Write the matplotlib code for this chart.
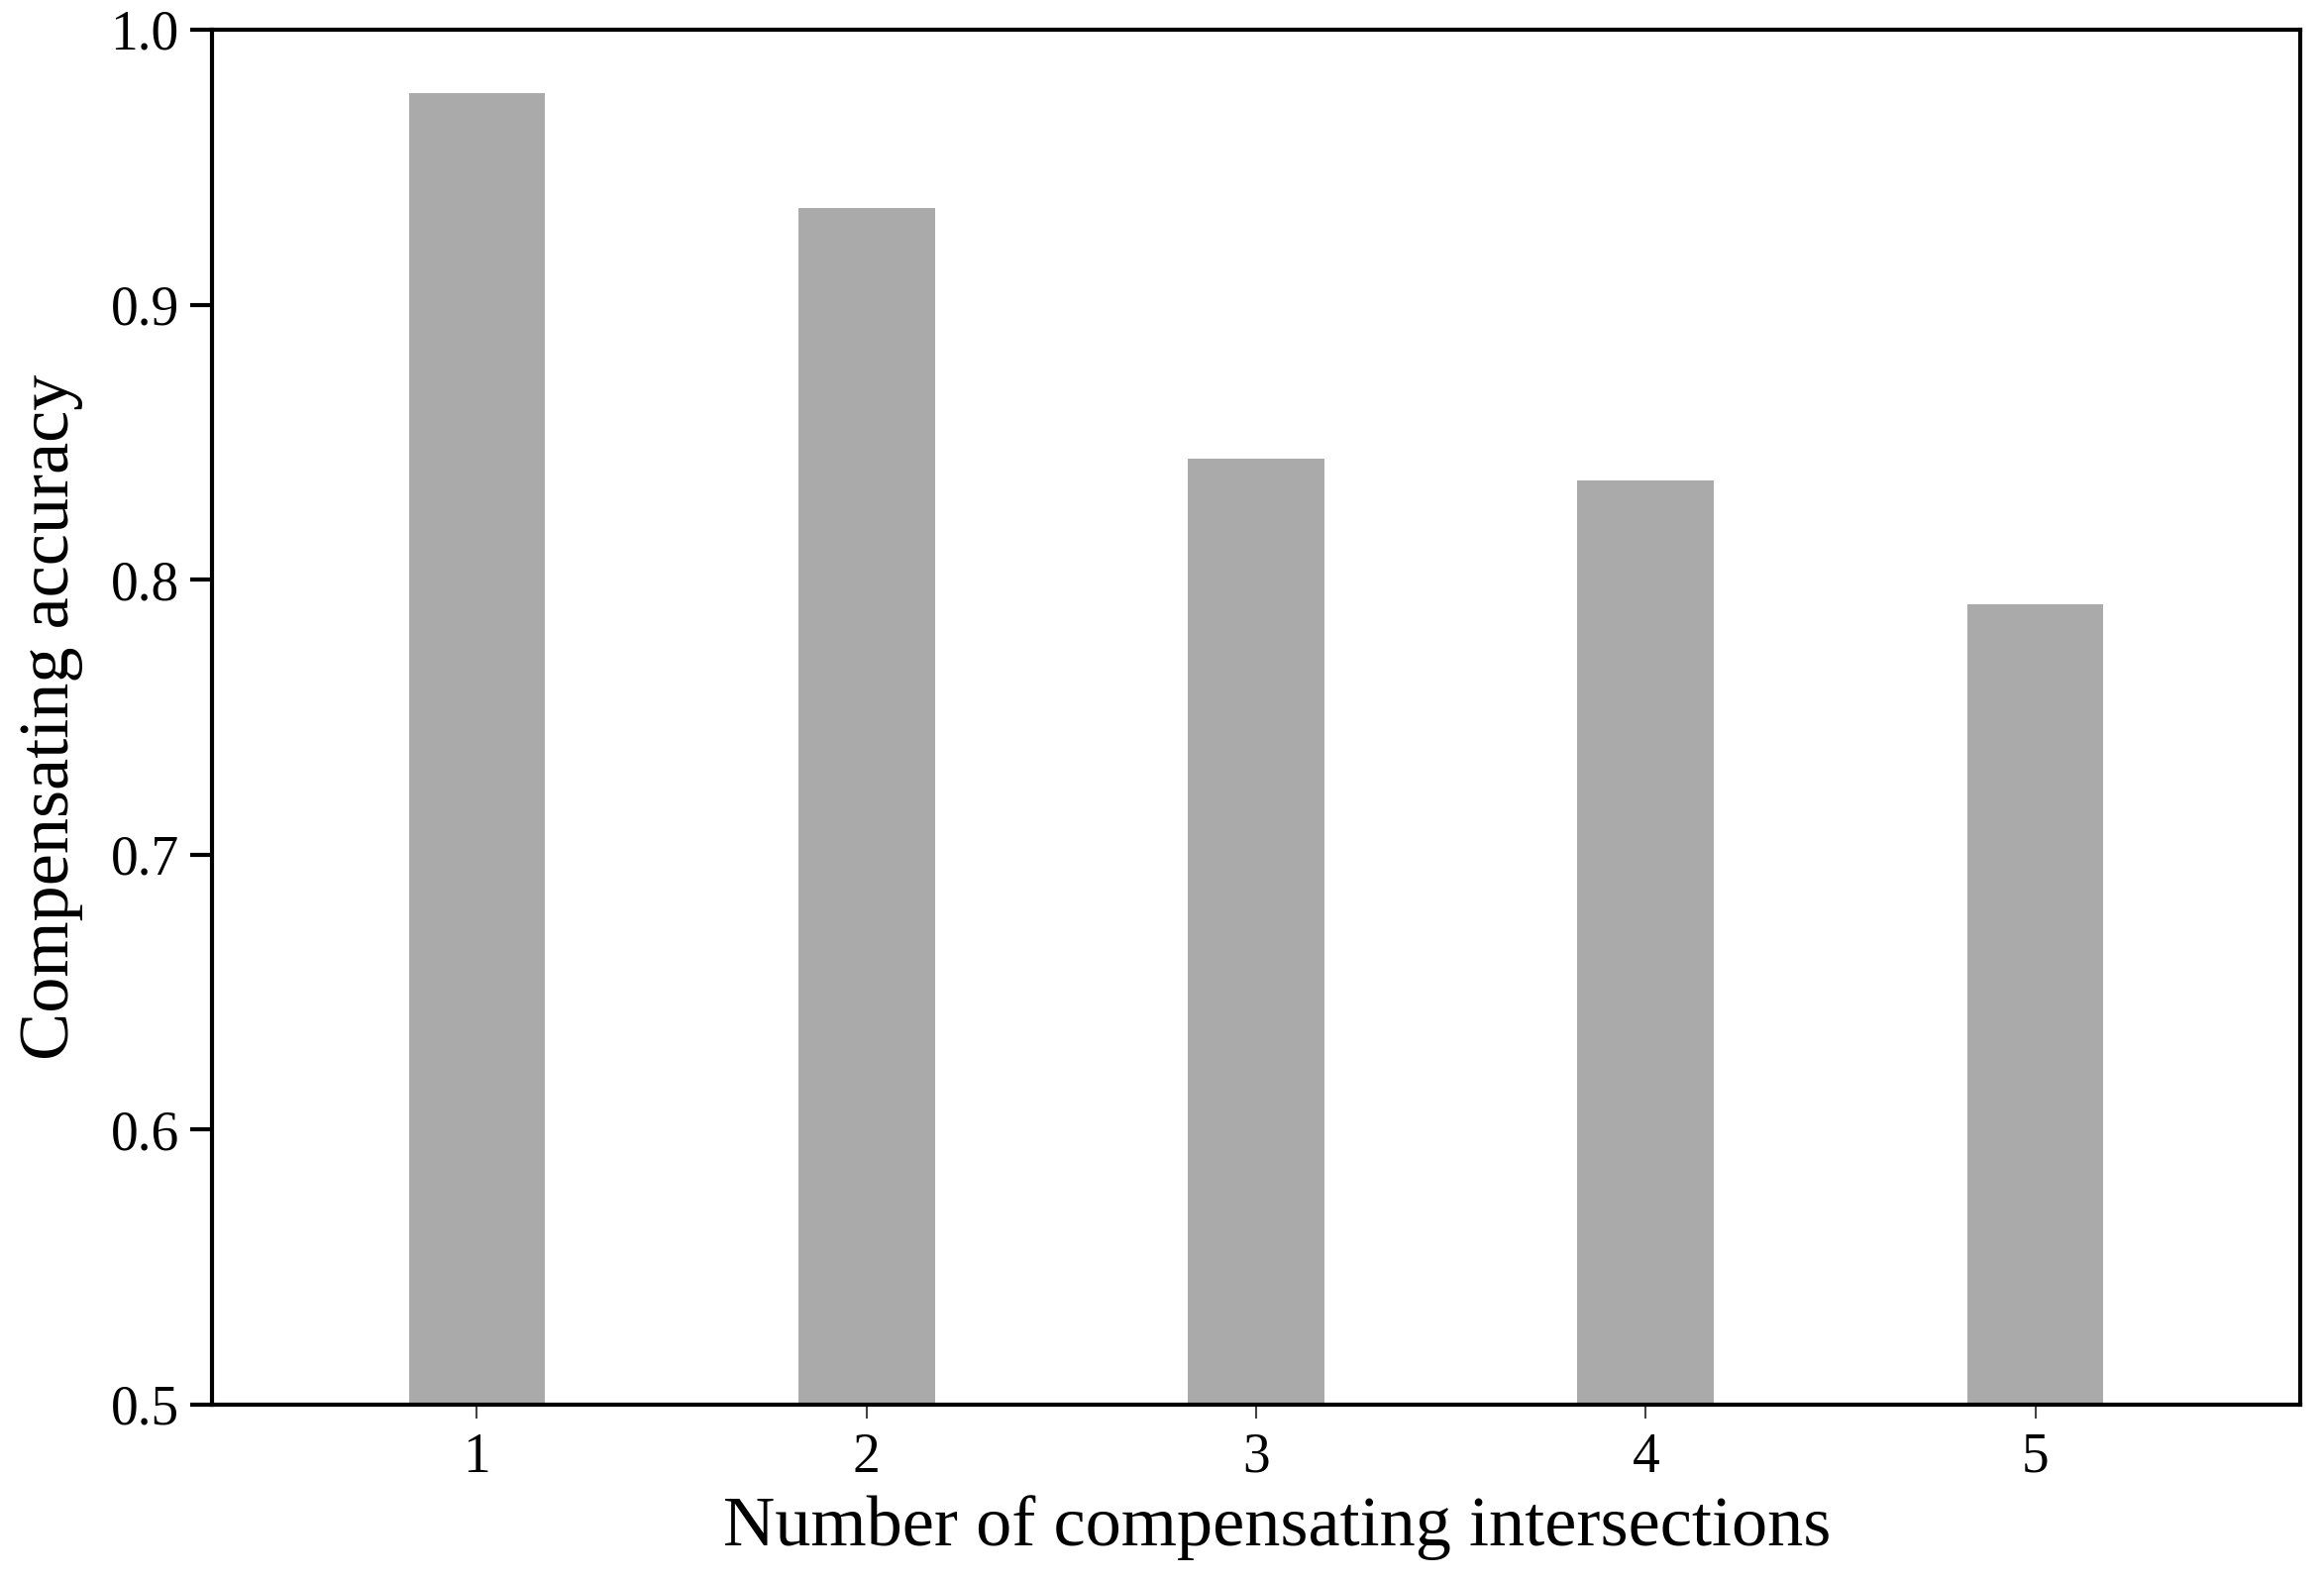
import matplotlib
matplotlib.use('Agg')
import matplotlib.pyplot as plt

plt.rcParams['font.family'] = ['Liberation Serif', 'DejaVu Serif']

intersections = [1, 2, 3, 4, 5]
accuracy = [0.977, 0.935, 0.844, 0.836, 0.791]
yticks = [0.5, 0.6, 0.7, 0.8, 0.9, 1.0]

fig = plt.figure(figsize=(23.46, 15.96), dpi=100)
ax = fig.add_axes([214 / 2346, 1 - 1418 / 1596, (2322 - 214) / 2346, (1418 - 30) / 1596])

base = 0.5
ax.bar(intersections, [a - base for a in accuracy], bottom=base, width=0.35,
       color='#aaaaaa', edgecolor='none')

ax.set_xlim(0.32, 5.68)
ax.set_ylim(0.5, 1.0)
ax.set_xticks(intersections)
ax.set_yticks(yticks)
ax.set_yticklabels([f'{v:.1f}' for v in yticks])

for s in ax.spines.values():
    s.set_linewidth(3)
    s.set_color('black')

ax.tick_params(axis='y', direction='out', length=16, width=3, labelsize=40, pad=8)
ax.tick_params(axis='x', direction='out', length=10, width=1.5, color='#444444',
               labelsize=40, pad=10)

ax.set_xlabel('Number of compensating intersections', fontsize=52)
ax.xaxis.set_label_coords(0.510, -0.066)
ax.set_ylabel('Compensating accuracy', fontsize=52, labelpad=20)

fig.savefig('out.png', dpi=100)
